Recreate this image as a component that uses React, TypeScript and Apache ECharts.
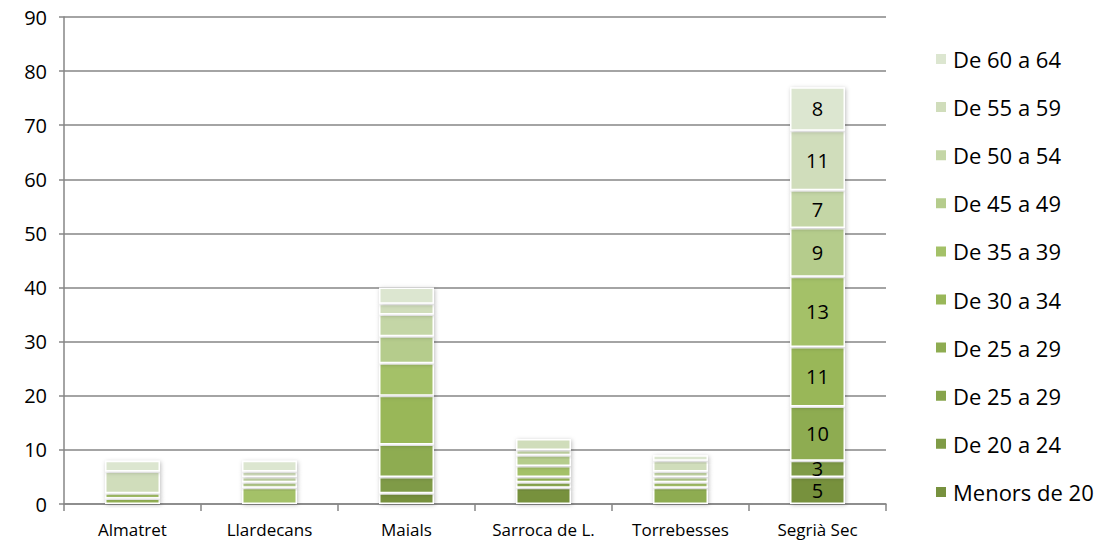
import React, { useEffect, useRef } from "react";
import * as echarts from "echarts";

const categories = ["Almatret", "Llardecans", "Maials", "Sarroca de L.", "Torrebesses", "Segrià Sec"];

// stacked bottom -> top
const seriesNames = [
  "Menors de 20",
  "De 20 a 24",
  "De 25 a 29",
  "De 25 a 29\u200B",
  "De 30 a 34",
  "De 35 a 39",
  "De 45 a 49",
  "De 50 a 54",
  "De 55 a 59",
  "De 60 a 64",
];
const menors20 = [0, 0, 2, 3, 0, 5];
const de20a24 = [0, 0, 3, 0, 0, 3];
const de25a29a = [0, 0, 0, 0, 0, 0];
const de25a29b = [0, 0, 6, 1, 3, 10];
const de30a34 = [1, 0, 9, 1, 0, 11];
const de35a39 = [1, 3, 6, 2, 1, 13];
const de45a49 = [0, 1, 5, 2, 1, 9];
const de50a54 = [0, 1, 4, 1, 1, 7];
const de55a59 = [4, 1, 2, 2, 2, 11];
const de60a64 = [2, 2, 3, 0, 1, 8];
const seriesValues = [menors20, de20a24, de25a29a, de25a29b, de30a34, de35a39, de45a49, de50a54, de55a59, de60a64];
const colors = [
  "#77913E",
  "#7F9B46",
  "#87A44C",
  "#8EAC51",
  "#99B759",
  "#A4C168",
  "#B5CC8C",
  "#C4D6A6",
  "#D0DDBB",
  "#DCE6D0",
];
const labelledCategory = "Segrià Sec";

export default function App() {
  const ref = useRef<HTMLDivElement>(null);
  useEffect(() => {
    if (!ref.current) return;
    const chart = echarts.init(ref.current, null, { renderer: "svg" });
    const font = "'Open Sans', sans-serif";
    chart.setOption({
      animation: false,
      textStyle: { fontFamily: font },
      grid: { left: 64, right: 221, top: 17, bottom: 45, containLabel: false },
      legend: {
        orient: "vertical",
        left: 929,
        top: 43,
        icon: "rect",
        itemWidth: 12,
        itemHeight: 12,
        itemGap: 26.1,
        data: [...seriesNames].reverse(),
        textStyle: { fontSize: 22, color: "#000", fontFamily: font, lineHeight: 20, padding: [0, 0, 0, 1] },
      },
      xAxis: {
        type: "category",
        data: categories,
        axisLine: { lineStyle: { color: "#868686", width: 1.5 } },
        axisTick: { show: true, length: 7, lineStyle: { color: "#868686", width: 1.5 } },
        axisLabel: { color: "#000", fontSize: 17, margin: 17, interval: 0, fontFamily: font },
      },
      yAxis: {
        type: "value",
        min: 0,
        max: 90,
        interval: 10,
        axisLine: { show: true, lineStyle: { color: "#868686", width: 1.5 } },
        axisTick: { show: true, length: 5, lineStyle: { color: "#868686", width: 1.5 } },
        splitLine: { lineStyle: { color: "#868686", width: 1.5 } },
        axisLabel: { color: "#000", fontSize: 20, margin: 17, fontFamily: font },
      },
      series: seriesNames.map((name, i) => ({
        name,
        type: "bar",
        stack: "total",
        barWidth: 55,
        data: seriesValues[i],
        itemStyle: {
          color: colors[i],
          borderColor: "#ffffff",
          borderWidth: 1.5,
          shadowBlur: 4,
          shadowColor: "rgba(0,0,0,0.25)",
          shadowOffsetX: 1,
          shadowOffsetY: 1,
        },
        label: {
          show: true,
          position: "inside",
          color: "#000",
          fontSize: 20,
          lineHeight: 15,
          fontFamily: font,
          formatter: (p: any) => (p.name === labelledCategory && p.value > 0 ? String(p.value) : ""),
        },
      })),
    });
    return () => chart.dispose();
  }, []);
  return <div ref={ref} style={{ width: 1107, height: 549, position: "absolute", left: 0, top: 0 }} />;
}
